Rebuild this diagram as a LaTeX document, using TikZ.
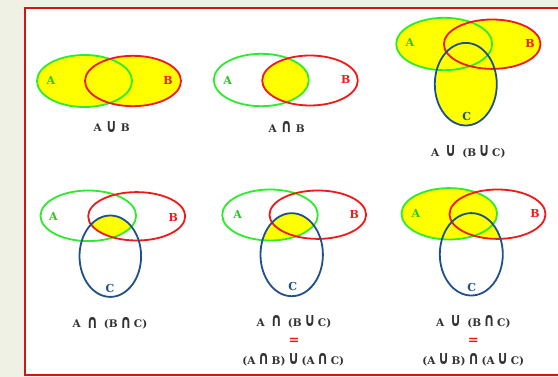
\documentclass[tikz,border=0pt]{standalone}
\usepackage{fontspec}
\usepackage{graphicx}
\setmainfont{DejaVu Serif}
\newfontfamily\symf{DejaVu Sans}
\definecolor{bg}{RGB}{239,241,228}
\definecolor{framered}{RGB}{210,20,20}
\definecolor{ga}{RGB}{45,235,45}
\definecolor{rb}{RGB}{240,25,25}
\definecolor{bc}{RGB}{30,80,140}
\definecolor{yl}{RGB}{255,255,0}
\definecolor{txt}{RGB}{50,50,50}
\newcommand\myU{\raisebox{-0.5pt}{\scalebox{0.72}[1]{\symf\bfseries\fontsize{19}{19}\selectfont ∪}}}
\newcommand\myI{\raisebox{-0.5pt}{\scalebox{0.72}[1]{\symf\bfseries\fontsize{19}{19}\selectfont ∩}}}
\newcommand\gs{\hspace{2.5pt}}
\newcommand\gb{\hspace{6pt}}
\begin{document}
\begin{tikzpicture}[x=1pt,y=-1pt,
  setA/.style={draw=ga,line width=1.8},
  setB/.style={draw=rb,line width=1.8},
  setC/.style={draw=bc,line width=1.8},
  lblA/.style={text=ga!85!black,font=\fontsize{11}{11}\selectfont\bfseries,inner sep=0},
  lblB/.style={text=rb,font=\fontsize{11}{11}\selectfont\bfseries,inner sep=0},
  lblC/.style={text=bc,font=\fontsize{11}{11}\selectfont\bfseries,inner sep=0},
  captxt/.style={text=txt,font=\fontsize{10.5}{11}\selectfont\bfseries,inner sep=0},
  eqs/.style={text=rb,font=\fontsize{13}{13}\selectfont\bfseries,inner sep=0}]
\useasboundingbox (0,0) rectangle (558,377);
\fill[bg] (0,0) rectangle (558,377);
\draw[framered,fill=white,line width=2] (24.5,8.5) rectangle (566,375.5);
% ---------- Panel 1: A u B
\def\PA{(84.5,81) ellipse [x radius=47.5,y radius=26]}
\def\PB{(133,81) ellipse [x radius=48,y radius=25.2]}
\fill[yl] \PA; \fill[yl] \PB;
\path[setA] \PA; \path[setB] \PB;
\node[lblA] (a1) at (51,80.3) {A};
\node[lblB] (b1) at (168,80) {B};
\node[captxt] (c1) at (111.7,126.7) {A\hspace{4pt}\myU\hspace{4pt}B};
% ---------- Panel 2: A n B
\def\PA{(261.3,80) ellipse [x radius=47.5,y radius=26.2]}
\def\PB{(310,80.5) ellipse [x radius=47.8,y radius=25]}
\begin{scope}\clip \PA; \fill[yl] \PB;\end{scope}
\path[setA] \PA; \path[setB] \PB;
\node[lblA] (a2) at (227.7,80) {A};
\node[lblB] (b2) at (345.7,79) {B};
\node[captxt] (c2) at (286.7,127) {A\hspace{4pt}\myI\hspace{4pt}B};
% ---------- Panel 3: A u (B u C)
\def\PA{(444.2,44) ellipse [x radius=48,y radius=26.2]}
\def\PB{(492.2,44.2) ellipse [x radius=48.3,y radius=24.7]}
\def\PC{(465.8,84.2) ellipse [x radius=31,y radius=41.3]}
\fill[yl] \PA; \fill[yl] \PB; \fill[yl] \PC;
\path[setA] \PA; \path[setB] \PB; \path[setC] \PC;
\node[lblA] (a3) at (410,42.7) {A};
\node[lblB] (b3) at (530,43) {B};
\node[lblC] (cc3) at (466.7,116.7) {C};
\node[captxt] (c3) at (468.3,151.7) {A\gb\myU\gb(B\gs\myU\gs C)};
% ---------- Panel 4: A n (B n C)
\def\PA{(88.3,215.8) ellipse [x radius=47.8,y radius=25.3]}
\def\PB{(136.7,216.3) ellipse [x radius=48.5,y radius=24.2]}
\def\PC{(110.3,256.2) ellipse [x radius=30.8,y radius=40.7]}
\begin{scope}\clip \PA; \clip \PB; \fill[yl] \PC;\end{scope}
\path[setA] \PA; \path[setB] \PB; \path[setC] \PC;
\node[lblA] (a4) at (53.3,216.7) {A};
\node[lblB] (b4) at (173.3,217) {B};
\node[lblC] (cc4) at (110,288.3) {C};
\node[captxt] (c4) at (110,323.3) {A\gb\myI\gb(B\gs\myI\gs C)};
% ---------- Panel 5: A n (B u C)
\def\PA{(270,215) ellipse [x radius=47.8,y radius=25.5]}
\def\PB{(317.8,214.7) ellipse [x radius=48.3,y radius=24.2]}
\def\PC{(291.7,254.7) ellipse [x radius=31.2,y radius=41.5]}
\begin{scope}\clip \PA; \fill[yl] \PC;\end{scope}
\path[setA] \PA; \path[setB] \PB; \path[setC] \PC;
\node[lblA] (a5) at (237.7,214.3) {A};
\node[lblB] (b5) at (354.3,214.3) {B};
\node[lblC] (cc5) at (292.7,286.7) {C};
\node[captxt] (c5) at (294,321.7) {A\gb\myI\gb(B\gs\myU\gs C)};
\node[eqs] (e5) at (294,341.7) {=};
\node[captxt] (d5) at (293.3,360) {(A\gs\myI\gs B)\gs\myU\gs(A\gs\myI\gs C)};
% ---------- Panel 6: A u (B n C)
\def\PA{(449.3,213.8) ellipse [x radius=47.8,y radius=25.7]}
\def\PB{(497.5,214.2) ellipse [x radius=48,y radius=24.7]}
\def\PC{(471.3,254.3) ellipse [x radius=31.5,y radius=41.2]}
\fill[yl] \PA;
\begin{scope}\clip \PB; \fill[yl] \PC;\end{scope}
\path[setA] \PA; \path[setB] \PB; \path[setC] \PC;
\node[lblA] (a6) at (416,213.3) {A};
\node[lblB] (b6) at (535,213.3) {B};
\node[lblC] (cc6) at (471.7,287) {C};
\node[captxt] (c6) at (473.3,321.7) {A\gb\myU\gb(B\gs\myI\gs C)};
\node[eqs] (e6) at (473.3,341.7) {=};
\node[captxt] (d6) at (473.3,360) {(A\gs\myU\gs B)\gs\myI\gs(A\gs\myU\gs C)};
\end{tikzpicture}
\end{document}
